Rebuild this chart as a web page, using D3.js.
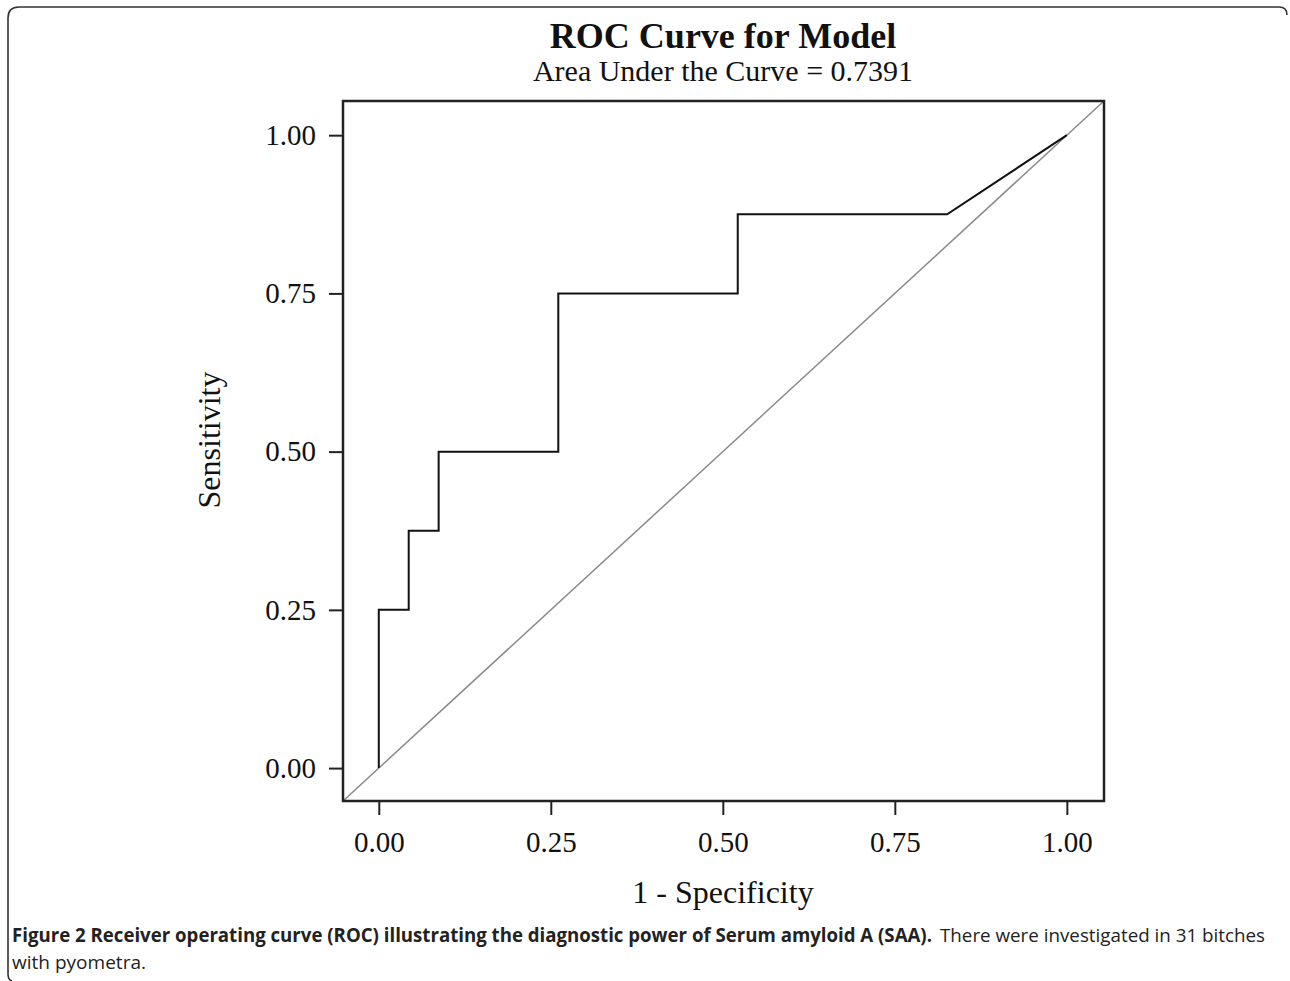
<!DOCTYPE html>
<html>
<head>
<meta charset="utf-8">
<script src="https://cdn.jsdelivr.net/npm/d3@7"></script>
<style>
  body { margin: 0; background: #fff; }
  svg { display: block; }
</style>
</head>
<body>
<svg id="chart" width="1290" height="981"></svg>
<script>
// ROC steps (23 negatives, 8 positives)
const fpr = [0, 0, 0.0435, 0.0435, 0.087, 0.087, 0.2609, 0.2609, 0.5217, 0.5217, 0.8261, 1];
const tpr = [0, 0.25, 0.25, 0.375, 0.375, 0.5, 0.5, 0.75, 0.75, 0.875, 0.875, 1];
const tickValues = [0, 0.25, 0.5, 0.75, 1];
const chartTitle = "ROC Curve for Model";
const subTitle = "Area Under the Curve = 0.7391";
const xLabel = "1 - Specificity";
const yLabel = "Sensitivity";

const svg = d3.select("#chart");
const box = {left: 343, top: 101, right: 1104, bottom: 801};
const serif = "'Liberation Serif', 'Times New Roman', serif";
const sans = "'Open Sans', sans-serif";

const x = d3.scaleLinear().domain([-0.052, 1.054]).range([box.left, box.right]);
const y = d3.scaleLinear().domain([-0.052, 1.054]).range([box.bottom, box.top]);

// figure frame (open bracket, rounded corners)
svg.append("path")
  .attr("d", "M1287,15 Q1287,7 1279,7 L19,7 Q8,7 8,18 L8,974 Q8,980 12,981")
  .attr("fill", "none").attr("stroke", "#333").attr("stroke-width", 1.6);

// reference diagonal across the whole plot area
svg.append("line")
  .attr("x1", x(-0.052)).attr("y1", y(-0.052))
  .attr("x2", x(1.054)).attr("y2", y(1.054))
  .attr("stroke", "#8a8a8a").attr("stroke-width", 1.5);

// ROC curve
const pts = fpr.map((v, i) => [v, tpr[i]]);
svg.append("path")
  .datum(pts)
  .attr("d", d3.line().x(d => x(d[0])).y(d => y(d[1])))
  .attr("fill", "none").attr("stroke", "#111").attr("stroke-width", 2);

// plot border
svg.append("rect")
  .attr("x", box.left).attr("y", box.top)
  .attr("width", box.right - box.left).attr("height", box.bottom - box.top)
  .attr("fill", "none").attr("stroke", "#222").attr("stroke-width", 2.5);

// axes
const xAxis = d3.axisBottom(x).tickValues(tickValues).tickFormat(d3.format(".2f"))
  .tickSize(14).tickPadding(16);
const yAxis = d3.axisLeft(y).tickValues(tickValues).tickFormat(d3.format(".2f"))
  .tickSize(14).tickPadding(13);

svg.append("g").attr("transform", `translate(0,${box.bottom})`).call(xAxis);
svg.append("g").attr("transform", `translate(${box.left},0)`).call(yAxis);

svg.selectAll(".domain").remove();
svg.selectAll(".tick line").attr("stroke", "#222").attr("stroke-width", 2);
svg.selectAll(".tick text")
  .attr("font-family", serif).attr("font-size", 29).attr("fill", "#111");

// titles
svg.append("text").attr("x", 723).attr("y", 48)
  .attr("text-anchor", "middle").attr("font-family", serif)
  .attr("font-weight", "bold").attr("font-size", 36).attr("fill", "#111")
  .text(chartTitle);
svg.append("text").attr("x", 723).attr("y", 81)
  .attr("text-anchor", "middle").attr("font-family", serif)
  .attr("font-size", 30).attr("fill", "#111")
  .text(subTitle);

svg.append("text").attr("x", 723).attr("y", 903)
  .attr("text-anchor", "middle").attr("font-family", serif)
  .attr("font-size", 32).attr("fill", "#111")
  .text(xLabel);
svg.append("text")
  .attr("transform", "translate(220,440) rotate(-90)")
  .attr("text-anchor", "middle").attr("font-family", serif)
  .attr("font-size", 32).attr("fill", "#111")
  .text(yLabel);

// caption
svg.append("text").attr("x", 12).attr("y", 942)
  .attr("font-family", sans).attr("font-size", 19).attr("font-weight", "bold").attr("fill", "#222")
  .attr("textLength", 920).attr("lengthAdjust", "spacingAndGlyphs")
  .text("Figure 2 Receiver operating curve (ROC) illustrating the diagnostic power of Serum amyloid A (SAA).");
svg.append("text").attr("x", 940).attr("y", 942)
  .attr("font-family", sans).attr("font-size", 19).attr("fill", "#222")
  .attr("textLength", 325).attr("lengthAdjust", "spacingAndGlyphs")
  .text("There were investigated in 31 bitches");
svg.append("text").attr("x", 12).attr("y", 969)
  .attr("font-family", sans).attr("font-size", 19).attr("fill", "#222")
  .attr("textLength", 134).attr("lengthAdjust", "spacingAndGlyphs")
  .text("with pyometra.");
</script>
</body>
</html>
